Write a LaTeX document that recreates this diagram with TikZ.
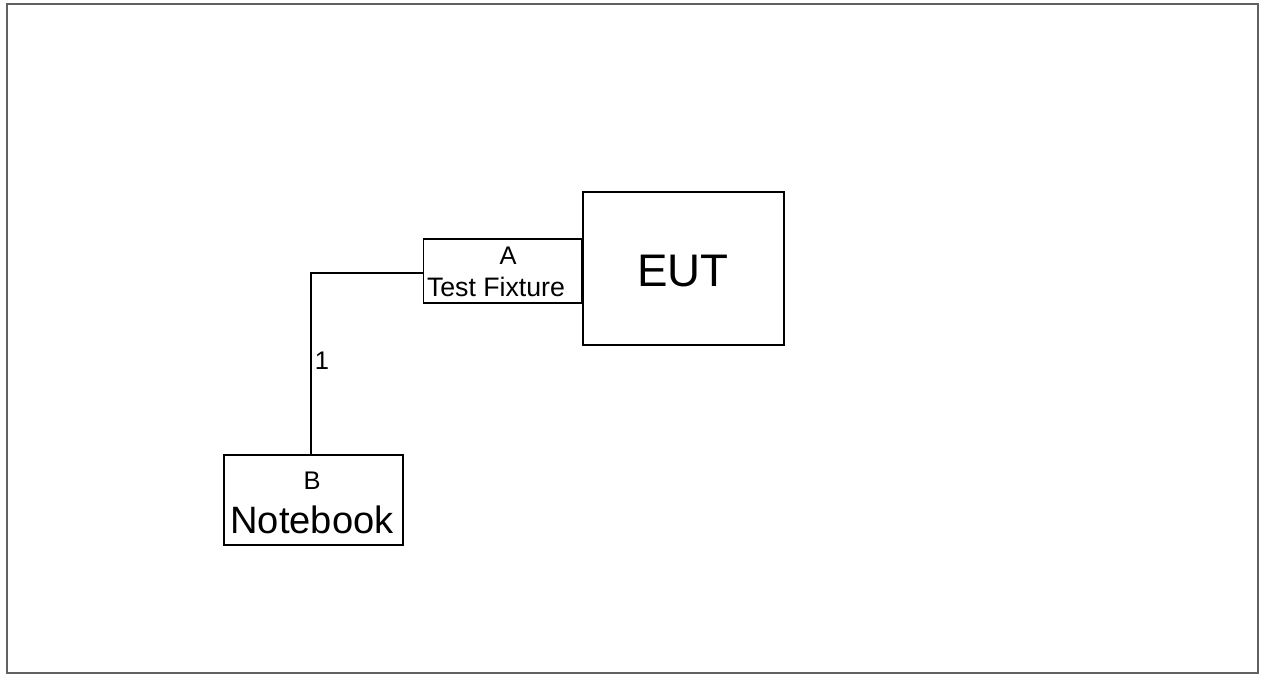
\documentclass[tikz,border=0pt]{standalone}
\usepackage{fontspec}
\setmainfont{Liberation Sans}
\usetikzlibrary{positioning}
\tikzset{
  unit box/.style={draw,line width=.85pt,inner sep=0pt},
  unit label/.style={inner sep=0pt,anchor=center},
  cable/.style={line width=.85pt}
}

\begin{document}
\begin{tikzpicture}[x=0.02cm,y=-0.02cm,line cap=rect,line join=miter]
  \useasboundingbox (0,0) rectangle (1263,675);
  \draw[black!62,line width=1.6pt] (7,4) rectangle (1258,673);

  \node[unit box,minimum width=201*0.02cm,minimum height=153*0.02cm] (eut) at (683.5,268.5) {};
  \node[unit box,minimum width=158*0.02cm,minimum height=64*0.02cm,anchor=east] (fix) at (eut.west |- 0,271) {};
  \node[unit box,minimum width=179*0.02cm,minimum height=90*0.02cm] (nb) at (313.5,500) {};

  \node[unit label,font=\fontsize{26}{30}\selectfont] (eutlbl) at (683,271) {EUT};
  \node[unit label,font=\fontsize{14.5}{16}\selectfont] (fixid) at (508,256) {A};
  \node[unit label,font=\fontsize{15.2}{17}\selectfont] (fixlbl) at (496,287) {Test Fixture};
  \node[unit label,font=\fontsize{14.5}{16}\selectfont] (nbid) at (312,481) {B};
  \node[unit label,font=\fontsize{21.7}{24}\selectfont] (nblbl) at (312,520) {Notebook};

  \coordinate (bend) at (311,273);
  \draw[cable] (fix.west |- bend) -- (bend) -- (bend |- nb.north);
  \node[unit label,font=\fontsize{14.5}{16}\selectfont] (cbl1) at (322,361) {1};
\end{tikzpicture}
\end{document}
